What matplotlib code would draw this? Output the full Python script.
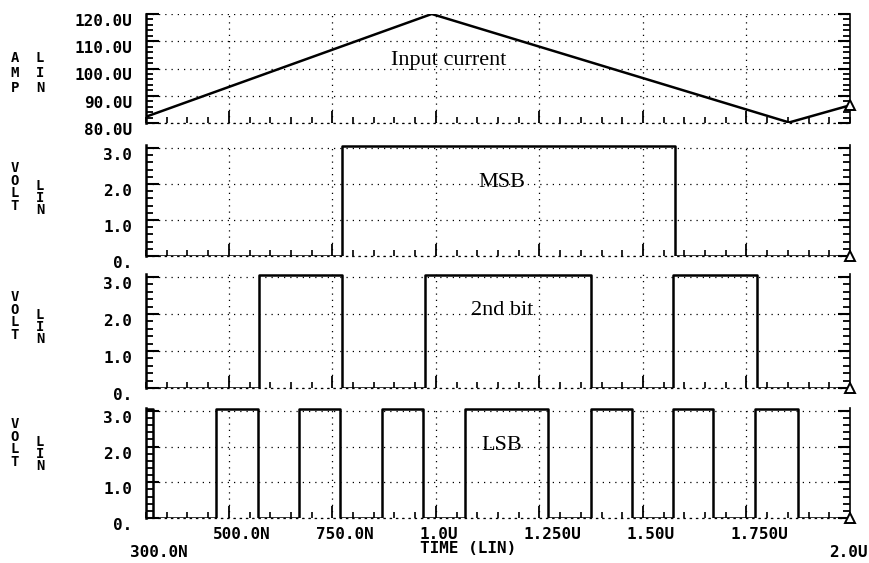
import matplotlib.pyplot as plt
import numpy as np
from matplotlib import transforms
from matplotlib.ticker import FixedLocator, MultipleLocator

# time axis, microseconds
t_start, t_stop = 0.3, 2.0
grid_times = [0.5, 0.75, 1.0, 1.25, 1.5, 1.75]
time_labels = ["500.0N", "750.0N", "1.0U", "1.250U", "1.50U", "1.750U"]
start_label, stop_label = "300.0N", "2.0U"

# triangular input current, uA
current_t = [0.30, 0.99, 1.853, 2.00]
current_ua = [82.3, 120.0, 80.2, 86.5]
current_ticks = [80, 90, 100, 110, 120]
current_labels = ["80.0U", "90.0U", "100.0U", "110.0U", "120.0U"]

# comparator outputs: switching instants (us), initial state
msb_edges = [0.773, 1.578]
bit2_edges = [0.573, 0.773, 0.974, 1.375, 1.573, 1.776]
lsb_edges = [0.317, 0.469, 0.571, 0.670, 0.769, 0.870, 0.969, 1.071,
             1.271, 1.375, 1.474, 1.573, 1.670, 1.771, 1.875]
msb_start, bit2_start, lsb_start = False, False, True
v_high, v_low = 3.06, 0.0
volt_ticks = [0, 1, 2, 3]
volt_labels = ["0.", "1.0", "2.0", "3.0"]

W, H = 870, 563
LEFT, RIGHT = 146, 850
# (top, bottom) pixel rows of the four strips
panels = [(14, 123), (145, 256), (274, 388), (408, 518)]

mono = dict(family="DejaVu Sans Mono", weight="bold")
serif = dict(family="Liberation Serif", size=16)


def square(edges, high):
    t, v = [t_start], [v_high if high else v_low]
    for e in edges:
        t += [e, e]
        v += [v_high if high else v_low, v_low if high else v_high]
        high = not high
    t.append(t_stop)
    v.append(v_high if high else v_low)
    return t, v


def style(ax, ylim, yticks, ylabels, minor):
    ax.set_xlim(t_start, t_stop)
    ax.set_ylim(*ylim)
    ax.xaxis.set_major_locator(FixedLocator(grid_times))
    ax.xaxis.set_minor_locator(MultipleLocator(0.05))
    ax.set_yticks(yticks, ylabels, fontsize=11.5, **mono)
    for lab in ax.get_yticklabels():
        lab.set_verticalalignment("top")
    ax.yaxis.set_minor_locator(MultipleLocator(minor))
    ax.tick_params(which="both", direction="in", right=True, top=False,
                   labelbottom=False, color="k")
    ax.tick_params(axis="y", which="major", length=9, width=1.5, pad=10)
    ax.tick_params(axis="y", which="minor", length=5, width=1.3)
    ax.tick_params(axis="x", which="major", length=9, width=1.3)
    ax.tick_params(axis="x", which="minor", length=4, width=1.2)
    ax.grid(True, which="major", color="k", linewidth=0.9,
            linestyle=(0, (1, 4)))
    ax.spines["top"].set_visible(False)
    ax.spines["left"].set_linewidth(1.8)
    ax.spines["right"].set_linewidth(1.2)
    ax.spines["bottom"].set_linestyle((0, (1, 4)))
    ax.spines["bottom"].set_linewidth(0.9)


def trace(ax, t, v):
    ax.plot(t, v, color="k", linewidth=1.8)
    ax.plot(t[-1], v[-1], marker="^", markersize=7, markerfacecolor="white",
            markeredgecolor="k", markeredgewidth=1.4, clip_on=False, zorder=5)


fig = plt.figure(figsize=(W / 100, H / 100), dpi=100)
axes = []
for top, bottom in panels:
    axes.append(fig.add_axes([LEFT / W, 1 - bottom / H,
                              (RIGHT - LEFT) / W, (bottom - top) / H]))

ax1, ax2, ax3, ax4 = axes
style(ax1, (80, 120), current_ticks, current_labels, 2)
trace(ax1, current_t, current_ua)
ax1.text(1.03, 103, "Input current", ha="center", va="center", **serif)

for ax, edges, start, name, vy in [
        (ax2, msb_edges, msb_start, "MSB", 2.03),
        (ax3, bit2_edges, bit2_start, "2nd bit", 2.1),
        (ax4, lsb_edges, lsb_start, "LSB", 2.04)]:
    style(ax, (0, 3.08), volt_ticks, volt_labels, 0.2)
    trace(ax, *square(edges, start))
    ax.text(1.16, vy, name, ha="center", va="center", **serif)

# stacked unit / scale names at the far left
names = [("A\nM\nP", 73, 73, 1.05), ("V\nO\nL\nT", 187, 198, 0.86),
         ("V\nO\nL\nT", 316, 327, 0.86), ("V\nO\nL\nT", 443, 454, 0.86)]
for unit, y_unit, y_lin, ls in names:
    fig.text(15 / W, 1 - y_unit / H, unit, ha="center", va="center",
             fontsize=10, linespacing=ls, **mono)
    fig.text(40 / W, 1 - y_lin / H, "L\nI\nN", ha="center", va="center",
             fontsize=10, linespacing=ls, **mono)

# time axis labels under the bottom strip
base = transforms.blended_transform_factory(ax4.transData, ax4.transAxes)


def shifted(dx, dy):
    return base + transforms.ScaledTranslation(dx / 100, dy / 100,
                                               fig.dpi_scale_trans)


for t, lab in zip(grid_times, time_labels):
    ax4.text(t, 0, lab, ha="left", va="top", fontsize=11.5,
             transform=shifted(-16, -9), **mono)
ax4.text(t_start, 0, start_label, ha="left", va="top", fontsize=11.5,
         transform=shifted(-16, -27), **mono)
ax4.text(t_stop, 0, stop_label, ha="right", va="top", fontsize=11.5,
         transform=shifted(18, -27), **mono)
ax4.text(1.0, 0, "TIME (LIN)", ha="left", va="top", fontsize=11.5,
         transform=shifted(-16, -23), **mono)

fig.savefig("out.png", dpi=100)
